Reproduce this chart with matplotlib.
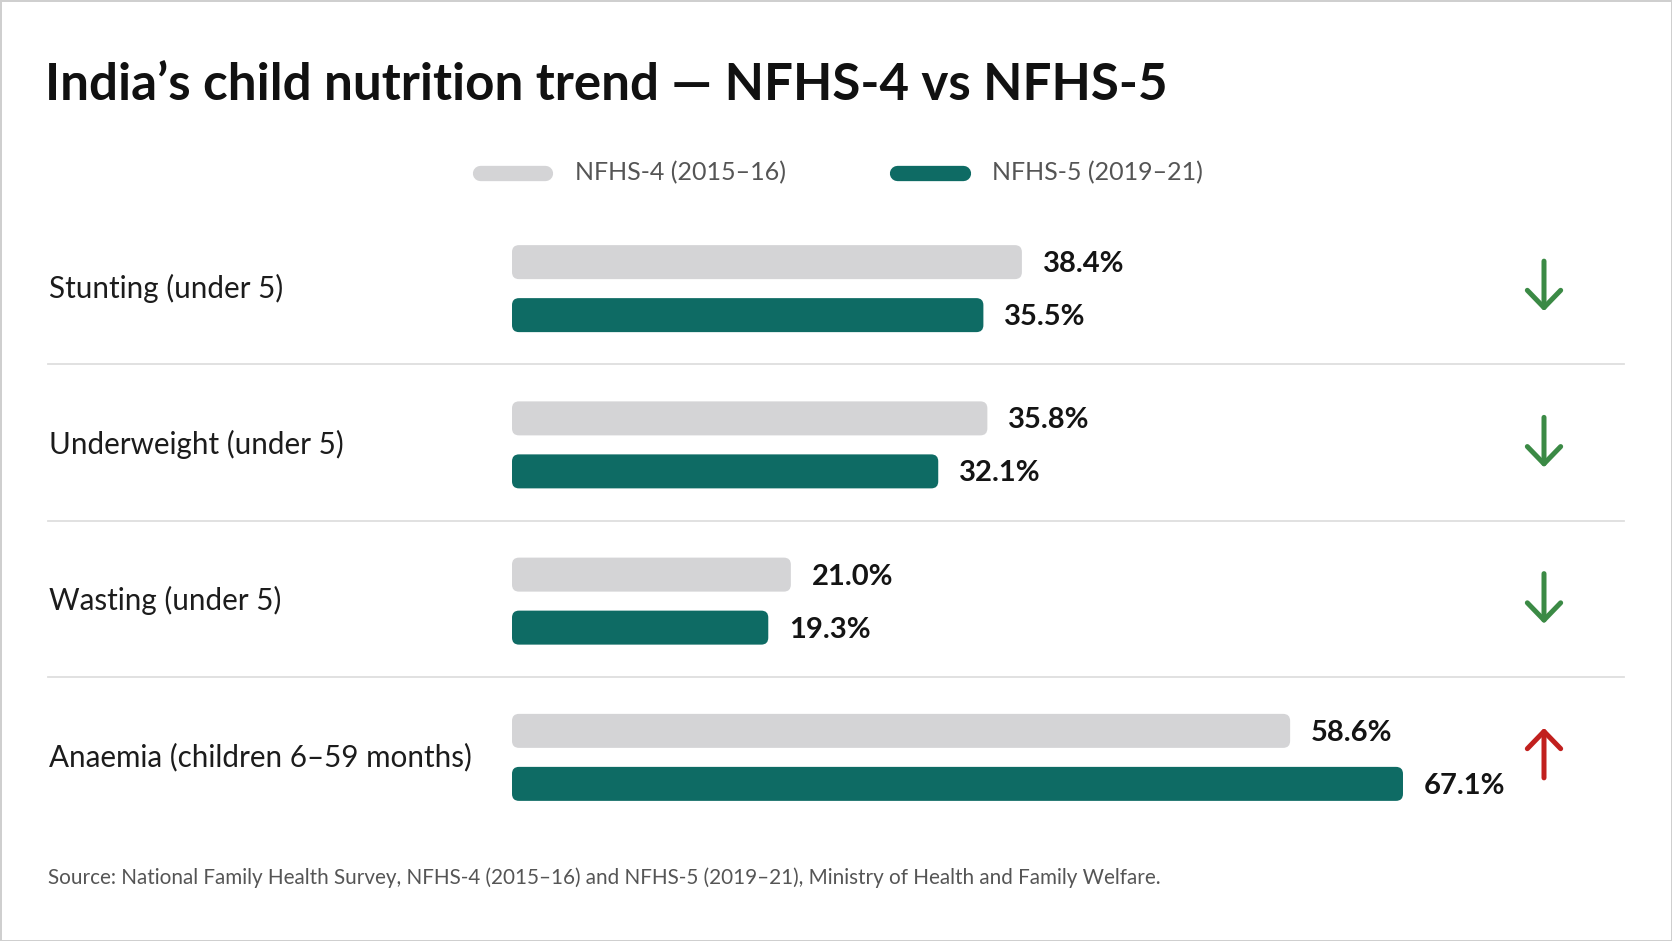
import numpy as np
import matplotlib
matplotlib.use("Agg")
import matplotlib.pyplot as plt
from matplotlib.patches import FancyBboxPatch
from matplotlib.lines import Line2D
from matplotlib.transforms import blended_transform_factory

# ---------------- data ----------------
categories = ["Stunting (under 5)", "Underweight (under 5)",
              "Wasting (under 5)", "Anaemia (children 6–59 months)"]
nfhs4 = [38.4, 35.8, 21.0, 58.6]
nfhs5 = [35.5, 32.1, 19.3, 67.1]
series_labels = ["NFHS-4 (2015–16)", "NFHS-5 (2019–21)"]
title = "India’s child nutrition trend — NFHS-4 vs NFHS-5"
source = ("Source: National Family Health Survey, NFHS-4 (2015–16) and NFHS-5 (2019–21), "
          "Ministry of Health and Family Welfare.")

# ---------------- style ----------------
plt.rcParams['font.family'] = ['Lato', 'DejaVu Sans']
GRAY = "#d4d4d6"
TEAL = "#0e6b64"
GREEN = "#3b8a45"
RED = "#c1201e"

W, H = 1672, 941
fig = plt.figure(figsize=(W / 100, H / 100), dpi=100)
fig.patch.set_facecolor("white")
fig.patch.set_edgecolor("#cfcfcf")
fig.patch.set_linewidth(2)

# bar axes (pixel layout)
ax_left, ax_w = 512, 929.5
ax_top, ax_bot = 208, 833
ax = fig.add_axes([ax_left / W, 1 - ax_bot / H, ax_w / W, (ax_bot - ax_top) / H])
XMAX = 70
ax.set_xlim(0, XMAX)
ax.set_ylim(3.5, -0.5)
ax.axis("off")

px_per_y = (ax_bot - ax_top) / 4.0
px_per_x = ax_w / XMAX

y = np.arange(len(categories))
off4, off5 = -24 / px_per_y, 29 / px_per_y
bh = 34 / px_per_y

bars4 = ax.barh(y + off4, nfhs4, height=bh, color=GRAY)
bars5 = ax.barh(y + off5, nfhs5, height=bh, color=TEAL)

# rounded bars
r_px = 7
aspect = (1 / px_per_y) / (1 / px_per_x)
for bars, col in ((bars4, GRAY), (bars5, TEAL)):
    for p in bars:
        p.set_visible(False)
        fb = FancyBboxPatch((p.get_x(), p.get_y()), p.get_width(), p.get_height(),
                            boxstyle=f"round,pad=0,rounding_size={r_px / px_per_x}",
                            mutation_aspect=aspect, facecolor=col, edgecolor="none")
        ax.add_patch(fb)

# value labels
for vals, off in ((nfhs4, off4), (nfhs5, off5)):
    for i, v in enumerate(vals):
        ax.annotate(f"{v:.1f}%", xy=(v, i + off + 2 / px_per_y), xytext=(21, 0),
                    textcoords="offset pixels", ha="left", va="center",
                    fontsize=21, fontweight="bold", color="#141414")

blend = blended_transform_factory(fig.transFigure, ax.transData)

# category labels
for i, c in enumerate(categories):
    ax.text(49 / W, i + 2 / px_per_y, c, transform=blend, ha="left", va="center",
            fontsize=21.3, color="#1c1c1c")

# separators
for i in range(len(categories) - 1):
    ax.plot([48 / W, 1624 / W], [i + 0.5, i + 0.5], transform=blend,
            color="#dedede", lw=1.3, clip_on=False)

# trend arrows
arrow_x = 1544 / W
for i, (a, b) in enumerate(zip(nfhs4, nfhs5)):
    d = 25 / px_per_y
    if b < a:
        col, tail, tip = GREEN, i - d, i + d
    else:
        col, tail, tip = RED, i + d - 2 / px_per_y, i - d - 2 / px_per_y
    ax.annotate("", xy=(arrow_x, tip), xytext=(arrow_x, tail),
                xycoords=blend, textcoords=blend,
                arrowprops=dict(arrowstyle="->,head_length=0.62,head_width=0.6",
                                lw=3.6, color=col, mutation_scale=20,
                                shrinkA=0, shrinkB=0, capstyle="round",
                                joinstyle="round"))

# legend
leg_y = 1 - 173 / H
for (x0, x1, tx), col, lab in zip(((480, 545, 575), (897, 963, 992)),
                                  (GRAY, TEAL), series_labels):
    fig.add_artist(Line2D([x0 / W, x1 / W], [leg_y, leg_y], lw=11,
                          solid_capstyle="round", color=col,
                          transform=fig.transFigure))
    fig.text(tx / W, leg_y, lab, ha="left", va="center", fontsize=18,
             color="#555555")

# title & source
fig.text(45 / W, 1 - 85 / H, title, ha="left", va="center", fontsize=36.8,
         fontweight="bold", color="#111111")
fig.text(48 / W, 1 - 878 / H, source, ha="left", va="center", fontsize=14.85,
         color="#555555")

fig.savefig("out.png", dpi=100, facecolor=fig.get_facecolor(),
            edgecolor=fig.get_edgecolor())
